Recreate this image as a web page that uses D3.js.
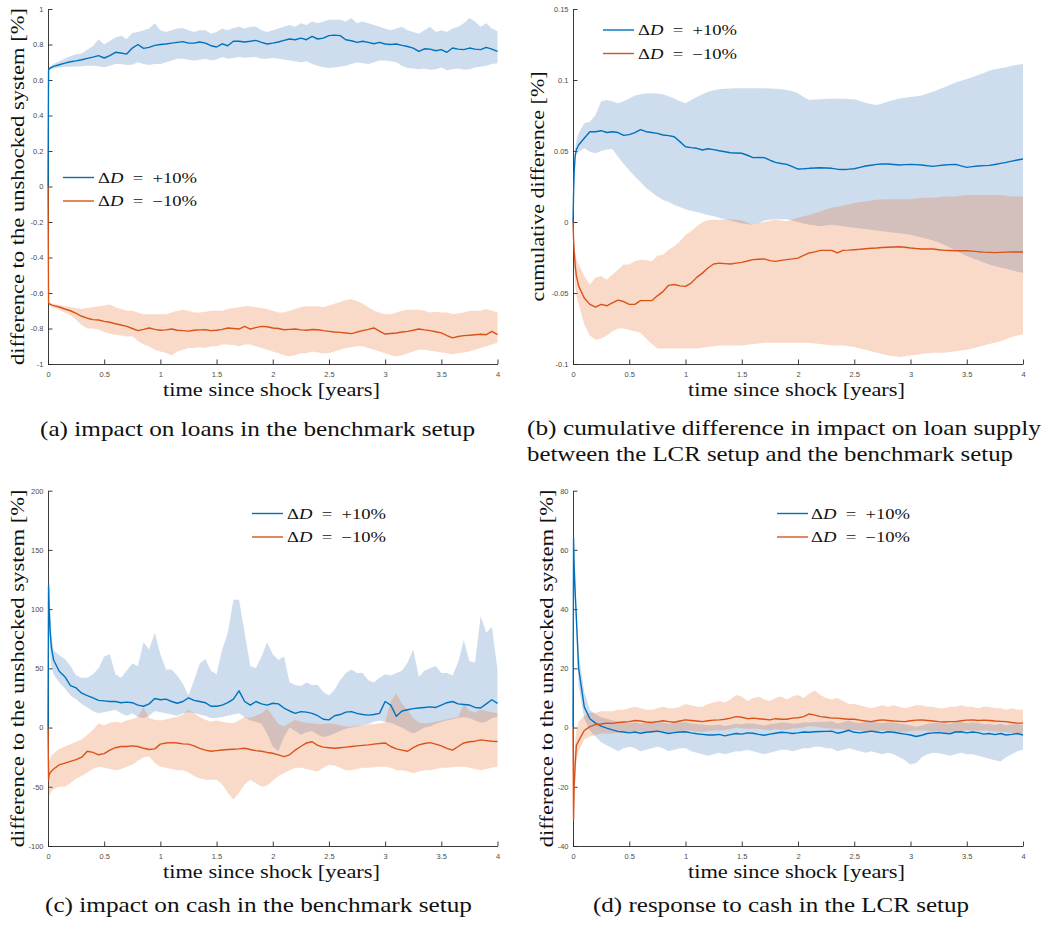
<!DOCTYPE html>
<html>
<head>
<meta charset="utf-8">
<script src="https://cdn.jsdelivr.net/npm/d3@7"></script>
<style>
  body { margin: 0; background: #fff; }
  svg { display: block; }
  .tick text { font-family: 'Liberation Sans', Arial, sans-serif; font-size: 7.5px; fill: #4d4d4d; }
  .serif { font-family: 'Liberation Serif', 'Times New Roman', serif; fill: #111; }
</style>
</head>
<body>
<div id="chart"></div>
<script>
// time since shock [years], shared by every series
const T = [0, 0.005, 0.01, 0.02, 0.03,
  0.05, 0.1, 0.15, 0.2, 0.25, 0.3, 0.35, 0.4, 0.45, 0.5,
  0.55, 0.6, 0.65, 0.7, 0.75, 0.8, 0.85, 0.9, 0.95, 1,
  1.05, 1.1, 1.15, 1.2, 1.25, 1.3, 1.35, 1.4, 1.45, 1.5,
  1.55, 1.6, 1.65, 1.7, 1.75, 1.8, 1.85, 1.9, 1.95, 2,
  2.05, 2.1, 2.15, 2.2, 2.25, 2.3, 2.35, 2.4, 2.45, 2.5,
  2.55, 2.6, 2.65, 2.7, 2.75, 2.8, 2.85, 2.9, 2.95, 3,
  3.05, 3.1, 3.15, 3.2, 3.25, 3.3, 3.35, 3.4, 3.45, 3.5,
  3.55, 3.6, 3.65, 3.7, 3.75, 3.8, 3.85, 3.9, 3.95, 4];

const xTicks = [0, 0.5, 1, 1.5, 2, 2.5, 3, 3.5, 4];
const yTicksA = [-1, -0.8, -0.6, -0.4, -0.2, 0, 0.2, 0.4, 0.6, 0.8, 1];
const yTicksB = [-0.1, -0.05, 0, 0.05, 0.1, 0.15];
const yTicksC = [-100, -50, 0, 50, 100, 150, 200];
const yTicksD = [-40, -20, 0, 20, 40, 60, 80];

const legendLabels = ['+10%', '\u221210%'];
const captions = [
  ['(a) impact on loans in the benchmark setup'],
  ['(b) cumulative difference in impact on loan supply', 'between the LCR setup and the benchmark setup'],
  ['(c) impact on cash in the benchmark setup'],
  ['(d) response to cash in the LCR setup']
];

// (a) loans, benchmark
const aPlusMean = [0, 0.655, 0.662, 0.667, 0.671,
  0.677, 0.686, 0.695, 0.703, 0.708, 0.714, 0.722, 0.729, 0.737, 0.724,
  0.737, 0.756, 0.752, 0.746, 0.78, 0.80, 0.778, 0.784, 0.795, 0.80,
  0.803, 0.808, 0.812, 0.816, 0.808, 0.808, 0.814, 0.808, 0.793, 0.786,
  0.804, 0.793, 0.818, 0.818, 0.814, 0.818, 0.823, 0.812, 0.803, 0.808,
  0.814, 0.823, 0.831, 0.827, 0.836, 0.827, 0.846, 0.831, 0.836, 0.85,
  0.853, 0.85, 0.827, 0.821, 0.812, 0.818, 0.812, 0.804, 0.812, 0.803,
  0.80, 0.803, 0.795, 0.789, 0.78, 0.761, 0.776, 0.774, 0.765, 0.771,
  0.756, 0.78, 0.774, 0.771, 0.78, 0.774, 0.771, 0.784, 0.774, 0.761];
const aPlusHi = [0, 0.66, 0.67, 0.675, 0.68,
  0.69, 0.705, 0.72, 0.735, 0.745, 0.75, 0.77, 0.79, 0.83, 0.80,
  0.82, 0.84, 0.85, 0.83, 0.865, 0.87, 0.88, 0.89, 0.92, 0.88,
  0.87, 0.88, 0.89, 0.893, 0.88, 0.87, 0.88, 0.88, 0.86, 0.87,
  0.89, 0.88, 0.893, 0.90, 0.89, 0.90, 0.90, 0.88, 0.87, 0.88,
  0.89, 0.90, 0.91, 0.90, 0.92, 0.91, 0.93, 0.92, 0.93, 0.94,
  0.94, 0.94, 0.93, 0.95, 0.92, 0.93, 0.92, 0.91, 0.90, 0.89,
  0.88, 0.89, 0.90, 0.88, 0.87, 0.86, 0.88, 0.90, 0.87, 0.88,
  0.87, 0.89, 0.90, 0.92, 0.95, 0.93, 0.90, 0.92, 0.89, 0.875];
const aPlusLo = [0, 0.65, 0.655, 0.66, 0.662,
  0.665, 0.67, 0.673, 0.675, 0.676, 0.678, 0.68, 0.68, 0.677, 0.672,
  0.68, 0.69, 0.69, 0.685, 0.686, 0.70, 0.69, 0.685, 0.69, 0.69,
  0.70, 0.71, 0.72, 0.72, 0.714, 0.71, 0.714, 0.72, 0.71, 0.715,
  0.73, 0.72, 0.724, 0.73, 0.725, 0.728, 0.73, 0.72, 0.72, 0.724,
  0.72, 0.715, 0.71, 0.705, 0.70, 0.705, 0.69, 0.68, 0.672, 0.667,
  0.67, 0.675, 0.68, 0.69, 0.70, 0.695, 0.69, 0.70, 0.71, 0.71,
  0.705, 0.70, 0.68, 0.667, 0.665, 0.66, 0.665, 0.658, 0.66, 0.67,
  0.655, 0.66, 0.665, 0.658, 0.66, 0.67, 0.675, 0.68, 0.69, 0.695];
const aMinusMean = [0, -0.655, -0.66, -0.664, -0.667,
  -0.671, -0.679, -0.69, -0.70, -0.715, -0.731, -0.742, -0.75, -0.752, -0.76,
  -0.765, -0.773, -0.78, -0.788, -0.80, -0.812, -0.805, -0.797, -0.805, -0.81,
  -0.808, -0.803, -0.81, -0.812, -0.815, -0.81, -0.808, -0.807, -0.812, -0.81,
  -0.805, -0.797, -0.80, -0.803, -0.788, -0.803, -0.795, -0.788, -0.79, -0.797,
  -0.80, -0.807, -0.805, -0.803, -0.808, -0.81, -0.806, -0.807, -0.812, -0.816,
  -0.82, -0.822, -0.825, -0.829, -0.82, -0.812, -0.805, -0.797, -0.815, -0.831,
  -0.828, -0.825, -0.82, -0.816, -0.81, -0.803, -0.808, -0.812, -0.818, -0.825,
  -0.84, -0.853, -0.845, -0.84, -0.838, -0.835, -0.832, -0.835, -0.816, -0.835];
const aMinusHi = [0, -0.645, -0.65, -0.655, -0.658,
  -0.662, -0.668, -0.675, -0.68, -0.685, -0.69, -0.685, -0.68, -0.675, -0.67,
  -0.665, -0.68, -0.69, -0.70, -0.70, -0.71, -0.72, -0.72, -0.72, -0.72,
  -0.72, -0.71, -0.70, -0.694, -0.70, -0.71, -0.71, -0.705, -0.70, -0.70,
  -0.70, -0.69, -0.685, -0.68, -0.675, -0.675, -0.68, -0.685, -0.69, -0.70,
  -0.71, -0.71, -0.70, -0.69, -0.68, -0.675, -0.675, -0.675, -0.68, -0.67,
  -0.66, -0.65, -0.64, -0.635, -0.645, -0.66, -0.68, -0.70, -0.71, -0.72,
  -0.72, -0.71, -0.70, -0.694, -0.694, -0.694, -0.70, -0.71, -0.705, -0.71,
  -0.71, -0.72, -0.715, -0.71, -0.70, -0.70, -0.70, -0.69, -0.70, -0.71];
const aMinusLo = [0, -0.665, -0.67, -0.675, -0.68,
  -0.685, -0.695, -0.71, -0.725, -0.75, -0.78, -0.80, -0.80, -0.807, -0.82,
  -0.83, -0.835, -0.84, -0.845, -0.844, -0.87, -0.89, -0.90, -0.92, -0.93,
  -0.938, -0.95, -0.93, -0.92, -0.91, -0.91, -0.905, -0.91, -0.90, -0.90,
  -0.89, -0.89, -0.895, -0.90, -0.89, -0.89, -0.90, -0.91, -0.92, -0.93,
  -0.94, -0.95, -0.957, -0.95, -0.94, -0.94, -0.93, -0.935, -0.94, -0.938,
  -0.93, -0.92, -0.91, -0.905, -0.90, -0.90, -0.91, -0.92, -0.93, -0.94,
  -0.95, -0.957, -0.95, -0.94, -0.93, -0.92, -0.92, -0.925, -0.93, -0.935,
  -0.94, -0.945, -0.94, -0.935, -0.93, -0.92, -0.91, -0.90, -0.89, -0.88];

// (b) cumulative difference, LCR vs benchmark
const bPlusMean = [0, 0.02, 0.035, 0.047, 0.051,
  0.0542, 0.059, 0.0636, 0.0636, 0.0643, 0.063, 0.0636, 0.063, 0.061, 0.0615,
  0.063, 0.065, 0.0636, 0.063, 0.0624, 0.0613, 0.0608, 0.060, 0.0566, 0.053,
  0.0524, 0.0519, 0.0507, 0.0516, 0.051, 0.0502, 0.0495, 0.0488, 0.0486, 0.0484,
  0.047, 0.0453, 0.0455, 0.0453, 0.0435, 0.042, 0.0412, 0.0406, 0.039, 0.0373,
  0.0375, 0.0378, 0.038, 0.0382, 0.038, 0.0378, 0.0372, 0.037, 0.0372, 0.0375,
  0.0385, 0.0394, 0.040, 0.0406, 0.0408, 0.0408, 0.0405, 0.0401, 0.0404, 0.0406,
  0.0404, 0.0401, 0.0396, 0.0392, 0.0397, 0.0401, 0.0404, 0.0406, 0.0395, 0.0385,
  0.039, 0.0394, 0.0397, 0.0399, 0.0405, 0.0413, 0.042, 0.0429, 0.0437, 0.0444];
const bPlusHi = [0, 0.025, 0.04, 0.052, 0.057,
  0.0625, 0.0695, 0.0706, 0.0754, 0.0848, 0.086, 0.085, 0.0836, 0.085, 0.087,
  0.089, 0.090, 0.0905, 0.0907, 0.0905, 0.090, 0.0885, 0.087, 0.085, 0.0836,
  0.086, 0.088, 0.090, 0.0918, 0.0928, 0.0934, 0.0938, 0.094, 0.0942, 0.0942,
  0.0942, 0.0942, 0.0942, 0.0942, 0.094, 0.0938, 0.0935, 0.093, 0.092, 0.0907,
  0.088, 0.086, 0.0862, 0.0864, 0.0866, 0.0868, 0.0868, 0.0868, 0.0866, 0.0864,
  0.0852, 0.084, 0.083, 0.0824, 0.0835, 0.0848, 0.086, 0.087, 0.0875, 0.088,
  0.0885, 0.089, 0.0905, 0.0918, 0.0933, 0.0949, 0.0965, 0.0982, 0.0995, 0.1007,
  0.102, 0.1036, 0.105, 0.1066, 0.1075, 0.1082, 0.109, 0.110, 0.1107, 0.1113];
const bPlusLo = [0, 0.015, 0.03, 0.045, 0.048,
  0.0495, 0.052, 0.0495, 0.0484, 0.050, 0.051, 0.0514, 0.046, 0.041, 0.0365,
  0.032, 0.0282, 0.024, 0.021, 0.018, 0.0155, 0.014, 0.012, 0.0105, 0.009,
  0.008, 0.007, 0.006, 0.005, 0.004, 0.003, 0.002, 0.001, 0.0, -0.001,
  -0.0015, -0.002, -0.001, 0.001, 0.0015, 0.002, 0.002, 0.002, 0.001, 0.0,
  -0.001, -0.002, -0.0025, -0.003, -0.0025, -0.002, -0.0025, -0.003, -0.0035, -0.004,
  -0.0045, -0.005, -0.0055, -0.006, -0.0065, -0.007, -0.0075, -0.008, -0.0085, -0.009,
  -0.010, -0.011, -0.012, -0.013, -0.0145, -0.016, -0.018, -0.020, -0.022, -0.024,
  -0.0255, -0.027, -0.0285, -0.030, -0.031, -0.032, -0.033, -0.034, -0.035, -0.036];
const bMinusMean = [0, -0.012, -0.02, -0.031, -0.038,
  -0.045, -0.0535, -0.058, -0.060, -0.058, -0.059, -0.057, -0.055, -0.056, -0.058,
  -0.058, -0.0554, -0.0554, -0.0554, -0.052, -0.049, -0.0446, -0.044, -0.045, -0.0453,
  -0.043, -0.039, -0.036, -0.0324, -0.0296, -0.029, -0.0293, -0.0296, -0.029, -0.0284,
  -0.0275, -0.0265, -0.0262, -0.026, -0.0272, -0.0277, -0.027, -0.0265, -0.026, -0.0254,
  -0.0235, -0.0218, -0.021, -0.020, -0.020, -0.020, -0.0218, -0.020, -0.0198, -0.0195,
  -0.0192, -0.0188, -0.0185, -0.0183, -0.018, -0.0178, -0.0176, -0.0174, -0.0178, -0.0183,
  -0.0187, -0.019, -0.019, -0.019, -0.0195, -0.020, -0.0201, -0.0202, -0.0202, -0.0202,
  -0.0205, -0.0209, -0.0212, -0.0214, -0.0216, -0.0214, -0.0212, -0.0211, -0.0211, -0.0211];
const bMinusHi = [0, -0.008, -0.014, -0.022, -0.026,
  -0.030, -0.038, -0.044, -0.039, -0.038, -0.0406, -0.037, -0.0336, -0.030, -0.030,
  -0.0277, -0.0265, -0.027, -0.0277, -0.0237, -0.023, -0.0195, -0.017, -0.0136, -0.0089,
  -0.0066, -0.003, -0.0002, 0.0012, 0.0015, 0.0016, 0.0018, 0.002, 0.0016, 0.0012,
  -0.0005, -0.0019, -0.001, 0.0, 0.0008, 0.0016, 0.001, 0.0005, 0.0018, 0.003,
  0.004, 0.005, 0.0062, 0.0075, 0.0088, 0.010, 0.0108, 0.0115, 0.0125, 0.0134,
  0.014, 0.0145, 0.0151, 0.0157, 0.0158, 0.016, 0.016, 0.016, 0.016, 0.016,
  0.0165, 0.017, 0.017, 0.017, 0.0175, 0.018, 0.018, 0.018, 0.0185, 0.019,
  0.019, 0.019, 0.019, 0.019, 0.019, 0.019, 0.0185, 0.018, 0.018, 0.018];
const bMinusLo = [0, -0.018, -0.03, -0.045, -0.052,
  -0.058, -0.072, -0.080, -0.083, -0.082, -0.080, -0.077, -0.075, -0.075, -0.076,
  -0.077, -0.078, -0.082, -0.086, -0.089, -0.089, -0.089, -0.089, -0.089, -0.089,
  -0.089, -0.089, -0.0885, -0.088, -0.0875, -0.087, -0.087, -0.087, -0.087, -0.087,
  -0.0865, -0.086, -0.0855, -0.085, -0.085, -0.085, -0.085, -0.085, -0.085, -0.085,
  -0.085, -0.085, -0.0855, -0.086, -0.0865, -0.087, -0.087, -0.087, -0.0875, -0.088,
  -0.089, -0.090, -0.091, -0.092, -0.093, -0.094, -0.0945, -0.095, -0.0945, -0.094,
  -0.0935, -0.093, -0.0925, -0.092, -0.092, -0.092, -0.0915, -0.091, -0.0905, -0.090,
  -0.089, -0.088, -0.087, -0.086, -0.085, -0.084, -0.0825, -0.081, -0.080, -0.079];

// (c) cash, benchmark
const cPlusMean = [0, 120, 100, 80, 68,
  57, 47.5, 43, 35.5, 33.5, 29, 27, 25, 23, 22.5,
  22, 22, 21, 21.5, 21, 19, 18, 20, 24.5, 23.5,
  24, 22, 20.5, 22, 25, 23, 22, 21, 18, 18,
  19, 21, 24, 31, 22, 19, 22, 20, 19, 20.5,
  20, 16.5, 14, 12, 13.5, 13, 12, 10, 7, 6.5,
  10, 11, 13, 13.5, 12, 11, 10.5, 11, 12, 22,
  19, 9.5, 14, 15, 16, 16.5, 17, 17.5, 17, 19,
  21, 22, 20, 19.5, 19, 17, 16.5, 20, 23.5, 20.5];
const cPlusHi = [0, 140, 125, 100, 80,
  65, 61, 58, 52, 44, 42, 42, 45, 50, 60,
  62, 45, 42, 48, 54, 52, 72, 66, 80, 62,
  49, 49, 44, 37, 27, 40, 54, 58, 48, 45,
  66, 80, 108, 108, 80, 52, 50, 60, 72, 62,
  57, 60, 38, 36, 35, 38, 36, 36, 30, 27,
  32, 40, 46, 49, 46, 46, 40, 38, 42, 45,
  44, 46, 48, 55, 66, 43, 48, 50, 52, 46,
  46, 44, 55, 74, 56, 55, 94, 80, 85, 49];
const cPlusLo = [0, 100, 80, 62, 52,
  45, 38, 33, 27, 24, 20, 17, 14, 12, 13,
  14, 15, 12, 10, 12, 9, 8, 10, 14, 13,
  12, 11, 10, 12, 13, 12, 11, 10, 8, 8,
  9, 10, 11, 12, 9, 6, 5, 3, -5, -16,
  -20, -8, 0, -3, -6, -4, -3, -6, -8, -7,
  -5, -3, -1, 0, 1, 2, 3, 5, 6, 5,
  4, 2, 0, -3, -5, -3, 0, 1, 3, 5,
  6, 7, 8, 9, 8, 6, 4, 5, 8, 9];
const cMinusMean = [0, -44, -40, -38, -37,
  -35, -31.5, -30, -28.5, -27, -25, -20, -21, -23, -22,
  -19, -17, -16, -16, -15.5, -16, -17.5, -18.5, -18, -14,
  -13, -12.7, -13, -13.8, -14, -15.5, -17.5, -19, -20, -19.5,
  -19, -18.5, -18.3, -18, -17.5, -18.5, -19.5, -20, -21, -21.7,
  -23, -24.5, -23, -19, -16, -13, -12, -15, -16.5, -17,
  -17.5, -17, -16.5, -16, -15.5, -15, -14.6, -14, -13.5, -13,
  -16, -18, -19, -20, -17, -14.6, -13.5, -12.7, -14, -15.5,
  -17.5, -19, -16, -13, -12, -11.5, -10.4, -11, -11.5, -11.8];
const cMinusHi = [0, -30, -28, -26, -24,
  -22, -18, -16, -14, -12, -10, -6, -2, 3.5, 2,
  4, 5, 4, 6, 7, 9, 17, 8, 6.5, 6,
  7, 8, 9, 11, 15, 12, 9, 6.5, 5, 6,
  5, 4, 3.7, 6, 9, 8, 10, 12, 16, 10,
  3, 1, 4, 6.5, 5, 4, 3.7, 3, 3, 3.7,
  3, 2, 1, 1, 1.5, 2, 2.5, 3, 3.5, 4,
  22, 29, 20, 15, 8, 4, 3.7, 4, 5, 6,
  7, 8, 9, 20, 14, 13, 15, 14, 13, 12];
const cMinusLo = [0, -60, -58, -56, -54,
  -52, -50, -50, -47, -43, -41, -38, -35, -33, -34,
  -35, -36, -35, -33, -31.5, -28, -25, -24.5, -30, -33,
  -34, -35, -36, -36, -38, -41, -43, -44, -44, -44,
  -48, -55, -61, -55, -48, -44, -47, -50, -49, -45,
  -41, -38.6, -36, -34, -34, -35, -36, -37, -34, -31.5,
  -32, -34, -36, -36, -35, -34, -34, -33.5, -33, -33,
  -34, -36, -36, -37, -38.6, -37, -36, -36, -35, -34,
  -34, -33.5, -33, -33, -34, -35, -36, -35, -34, -33];

// (d) cash, LCR
const dPlusMean = [0, 64, 55, 45, 37,
  20, 7, 3, 1.5, 0.5, -0.2, -0.8, -1.3, -1.5, -1.8,
  -1.5, -1.9, -1.6, -1.4, -1.2, -1.6, -2.0, -1.7, -1.5, -1.4,
  -1.8, -2.1, -2.3, -2.5, -2.5, -2.3, -2.8, -2.4, -2.0, -2.2,
  -1.8, -1.9, -2.3, -2.6, -2.2, -1.9, -1.6, -1.7, -2.0, -1.8,
  -1.5, -1.6, -1.4, -1.35, -1.3, -1.2, -1.9, -1.5, -0.9, -1.6,
  -1.8, -1.5, -1.2, -1.5, -1.8, -1.4, -1.6, -1.9, -2.2, -2.5,
  -3.0, -2.6, -2.0, -1.8, -1.7, -1.9, -2.1, -1.5, -1.4, -1.8,
  -1.5, -1.7, -2.2, -2.0, -2.4, -2.0, -2.5, -2.3, -2.0, -2.5];
const dPlusHi = [0, 65, 57, 48, 40,
  25, 12, 6, 4.5, 3.5, 3, 2.5, 2, 1.8, 1.5,
  1.8, 1.4, 1.7, 1.9, 2.1, 1.7, 1.3, 1.6, 1.8, 1.9,
  1.5, 1.2, 1.0, 0.8, 0.8, 1.0, 0.5, 0.9, 1.3, 1.1,
  1.5, 1.4, 1.0, 0.7, 1.1, 1.4, 1.7, 1.6, 1.3, 1.5,
  1.8, 1.7, 1.9, 2.0, 2.0, 2.1, 1.4, 1.8, 2.4, 1.7,
  1.5, 1.8, 2.1, 1.8, 1.5, 1.9, 1.7, 1.4, 1.1, 0.8,
  0.3, 0.7, 1.3, 1.5, 1.6, 1.4, 1.2, 1.8, 1.9, 1.5,
  1.8, 1.6, 1.1, 1.3, 0.9, 1.3, 0.8, 1.0, 1.3, 0.8];
const dPlusLo = [0, 60, 50, 40, 32,
  14, 3, -1, -3, -5, -6, -7, -8, -7, -6.5,
  -7, -8, -7.5, -7, -6.5, -7, -8, -7.5, -7, -7,
  -8, -8.5, -9, -9.5, -9, -8.5, -9, -8.5, -8, -8,
  -7.5, -8, -8.5, -9, -8.5, -8, -7.5, -7.5, -8, -7.5,
  -7, -7, -6.5, -6.5, -7, -7, -8, -7.5, -7, -7.5,
  -8, -8.5, -8, -8.5, -9, -8.5, -9, -10, -11, -12.5,
  -12, -10, -9, -8.5, -8.7, -9, -9.5, -9, -8.5, -9,
  -9, -9.5, -10, -10.5, -11, -11.5, -10, -9, -8, -7.5];
const dMinusMean = [0, -31, -20, -12, -6,
  -4.5, -1, 0.3, 1.0, 1.2, 1.5, 1.4, 1.7, 1.9, 2.0,
  2.4, 2.2, 1.9, 1.7, 2.0, 2.3, 2.0, 1.8, 2.2, 2.6,
  2.4, 2.2, 2.0, 2.3, 2.5, 2.6, 2.8, 3.2, 3.7, 3.5,
  3.0, 3.2, 3.0, 2.8, 2.6, 3.0, 2.8, 2.8, 3.2, 3.3,
  3.7, 4.6, 4.2, 3.7, 3.5, 3.2, 3.2, 3.0, 2.8, 2.8,
  2.5, 2.2, 2.0, 2.4, 2.6, 2.4, 2.2, 2.1, 2.0, 2.3,
  2.5, 2.6, 2.4, 2.2, 2.0, 1.9, 2.0, 2.0, 2.3, 2.5,
  2.6, 2.4, 2.5, 2.4, 2.2, 2.1, 2.0, 1.7, 1.5, 1.5];
const dMinusHi = [0, -25, -12, -5, -1,
  2, 4, 5, 5, 5.5, 5.5, 5.5, 6, 6, 6.5,
  7, 6.5, 6, 6, 6.5, 7, 6.5, 6.5, 7, 8,
  7.5, 7, 7, 8, 8.5, 9, 8.5, 9.5, 11, 10.5,
  9, 10, 10.5, 9.5, 9, 10, 10.5, 9.5, 10.5, 11,
  10, 11.5, 12.5, 11, 10, 9.5, 10, 9, 8, 8,
  7.5, 7, 6.5, 7, 7.5, 7, 7.5, 7, 6.5, 7,
  7.5, 7.5, 7, 7, 6.5, 6.5, 7, 7, 7.5, 7,
  7, 6.5, 7, 7, 6.5, 6.5, 6, 6.5, 6, 6];
const dMinusLo = [0, -33, -26, -18, -11,
  -8, -4, -3, -2.5, -2, -2, -2, -1.8, -1.6, -1.5,
  -1.2, -1.3, -1.6, -1.8, -1.5, -1.2, -1.5, -1.7, -1.3, -1,
  -1.1, -1.3, -1.5, -1.2, -1, -1, -0.8, -0.5, 0, -0.2,
  -0.5, -0.3, -0.5, -0.7, -0.9, -0.5, -0.7, -0.7, -0.3, -0.2,
  0, 0.5, 0.3, 0, -0.2, -0.4, -0.4, -0.6, -0.8, -0.8,
  -1, -1.3, -1.5, -1.1, -1, -1.1, -1.3, -1.4, -1.5, -1.2,
  -1, -1, -1.1, -1.3, -1.5, -1.6, -1.5, -1.5, -1.2, -1,
  -1, -1.1, -1, -1.1, -1.3, -1.4, -1.5, -1.8, -2, -2];

// Set constants
const WIDTH = 1048;
const HEIGHT = 926;
const BLUE = '#0072BD';
const RED = '#D95319';
const BLUE_BAND = '#3777bb';
const RED_BAND = '#e76b27';
const BAND_OPACITY = 0.25;
const AXIS_COLOR = '#262626';

const panels = [
  { left: 48, right: 497.5, top: 9, bottom: 364, yDomain: [-1, 1], yTicks: yTicksA,
    plus: [aPlusLo, aPlusMean, aPlusHi], minus: [aMinusLo, aMinusMean, aMinusHi],
    legend: { lineX: 63, textX: 98, base: 182.5 },
    yLabel: 'difference to the unshocked system [%]', yLabelX: 23.5, yLabelLen: 357,
    xLabelX: 163, xLabelBase: 395.5,
    caption: captions[0], capX: [40], capBase: [435.5], capLen: [435] },
  { left: 573, right: 1023, top: 9, bottom: 364, yDomain: [-0.1, 0.15], yTicks: yTicksB,
    plus: [bPlusLo, bPlusMean, bPlusHi], minus: [bMinusLo, bMinusMean, bMinusHi],
    legend: { lineX: 603, textX: 638, base: 35 },
    yLabel: 'cumulative difference [%]', yLabelX: 544, yLabelLen: 230,
    xLabelX: 688, xLabelBase: 395.5,
    caption: captions[1], capX: [527, 527], capBase: [435, 460.5], capLen: [514, 486] },
  { left: 48, right: 497.5, top: 490.7, bottom: 846, yDomain: [-100, 200], yTicks: yTicksC,
    plus: [cPlusLo, cPlusMean, cPlusHi], minus: [cMinusLo, cMinusMean, cMinusHi],
    legend: { lineX: 252, textX: 287, base: 518.5 },
    yLabel: 'difference to the unshocked system [%]', yLabelX: 23.5, yLabelLen: 358,
    xLabelX: 163, xLabelBase: 878,
    caption: captions[2], capX: [45], capBase: [911.5], capLen: [427] },
  { left: 573, right: 1023, top: 490.7, bottom: 846, yDomain: [-40, 80], yTicks: yTicksD,
    plus: [dPlusLo, dPlusMean, dPlusHi], minus: [dMinusLo, dMinusMean, dMinusHi],
    legend: { lineX: 777, textX: 811, base: 518.5 },
    yLabel: 'difference to the unshocked system [%]', yLabelX: 552.5, yLabelLen: 358,
    xLabelX: 688, xLabelBase: 878,
    caption: captions[3], capX: [593], capBase: [911.5], capLen: [376] }
];

const svg = d3.select('#chart')
              .append('svg')
              .attr('width', WIDTH)
              .attr('height', HEIGHT);

panels.forEach(function(p) {
  const xScale = d3.scaleLinear().domain([0, 4]).range([p.left, p.right]);
  const yScale = d3.scaleLinear().domain(p.yDomain).range([p.bottom, p.top]);
  const g = svg.append('g');

  // Axes first, MATLAB draws the curves over them
  const xAxis = d3.axisBottom(xScale).tickValues(xTicks).tickFormat(d => String(d))
                  .tickSizeInner(-4.5).tickSizeOuter(0).tickPadding(8);
  const yAxis = d3.axisLeft(yScale).tickValues(p.yTicks).tickFormat(d => String(d))
                  .tickSizeInner(-4.5).tickSizeOuter(0).tickPadding(4.5);
  g.append('g').attr('transform', 'translate(0, ' + p.bottom + ')').call(xAxis);
  g.append('g').attr('transform', 'translate(' + p.left + ', 0)').call(yAxis);
  g.selectAll('.domain, .tick line').attr('stroke', AXIS_COLOR).attr('stroke-width', 0.9);

  const band = lmh => d3.area()
    .x((d, i) => xScale(d))
    .y0((d, i) => yScale(lmh[0][i]))
    .y1((d, i) => yScale(lmh[2][i]));
  const mean = lmh => d3.line()
    .x((d, i) => xScale(d))
    .y((d, i) => yScale(lmh[1][i]));

  // shaded ranges, blue then red on top
  g.append('path').datum(T).attr('d', band(p.plus))
   .attr('fill', BLUE_BAND).attr('fill-opacity', BAND_OPACITY);
  g.append('path').datum(T).attr('d', band(p.minus))
   .attr('fill', RED_BAND).attr('fill-opacity', BAND_OPACITY);

  // mean lines
  [[p.plus, BLUE], [p.minus, RED]].forEach(function(s) {
    g.append('path').datum(T).attr('d', mean(s[0]))
     .attr('fill', 'none').attr('stroke', s[1]).attr('stroke-width', 1.4)
     .attr('stroke-linejoin', 'round');
  });

  // legend
  [BLUE, RED].forEach(function(col, i) {
    const base = p.legend.base + i * 23.5;
    g.append('line')
     .attr('x1', p.legend.lineX).attr('x2', p.legend.lineX + 31)
     .attr('y1', base - 5).attr('y2', base - 5)
     .attr('stroke', col).attr('stroke-width', 1.4);
    const t = g.append('text').attr('class', 'serif')
               .attr('x', p.legend.textX).attr('y', base)
               .attr('font-size', 14)
               .attr('textLength', 99).attr('lengthAdjust', 'spacingAndGlyphs');
    t.append('tspan').text('\u0394');
    t.append('tspan').attr('font-style', 'italic').text('D');
    t.append('tspan').text('\u2002=\u2002' + legendLabels[i]);
  });

  // axis labels
  g.append('text').attr('class', 'serif')
   .attr('x', p.xLabelX).attr('y', p.xLabelBase)
   .attr('font-size', 18)
   .attr('textLength', 217).attr('lengthAdjust', 'spacingAndGlyphs')
   .text('time since shock [years]');
  g.append('text').attr('class', 'serif')
   .attr('transform', 'translate(' + p.yLabelX + ', ' + (p.top + p.bottom) / 2 + ') rotate(-90)')
   .attr('text-anchor', 'middle')
   .attr('font-size', 18)
   .attr('textLength', p.yLabelLen).attr('lengthAdjust', 'spacingAndGlyphs')
   .text(p.yLabel);

  // sub-figure caption
  p.caption.forEach(function(line, i) {
    g.append('text').attr('class', 'serif')
     .attr('x', p.capX[i]).attr('y', p.capBase[i])
     .attr('font-size', 21)
     .attr('textLength', p.capLen[i]).attr('lengthAdjust', 'spacingAndGlyphs')
     .text(line);
  });
});
</script>
</body>
</html>
